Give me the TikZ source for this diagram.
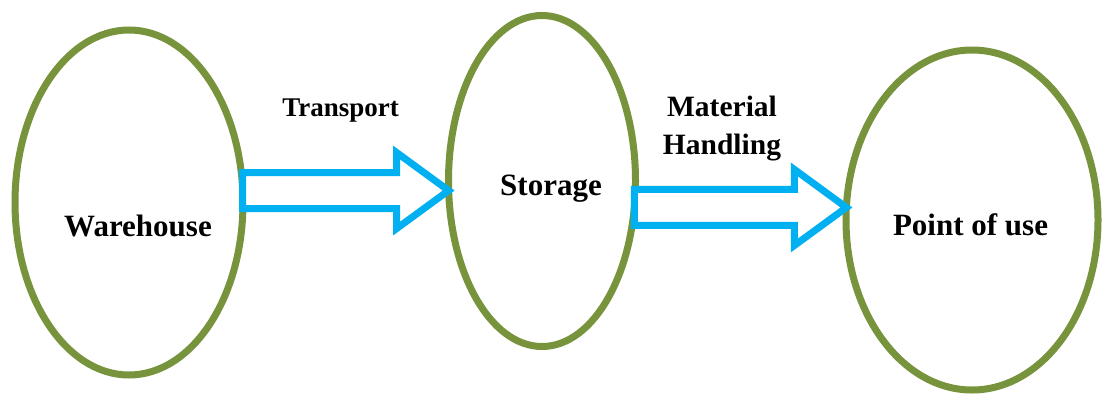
\documentclass[tikz,border=0pt]{standalone}
\usepackage{fontspec}
\setmainfont{Liberation Serif}
\usetikzlibrary{shapes,positioning,calc}

\definecolor{olivegreen}{HTML}{77933C}
\definecolor{pilblue}{HTML}{00B0F0}

\begin{document}
\begin{tikzpicture}[x=1pt, y=-1pt]

\tikzstyle{ring}=[ellipse, draw=olivegreen, line width=7pt, inner sep=0pt, outer sep=0pt]
\tikzstyle{tekst}=[font=\bfseries\fontsize{31}{36}\selectfont, anchor=base, inner sep=0pt]
\tikzstyle{pil}=[draw=pilblue, line width=7pt, fill=white,
  to path={let \p1=(\tikztostart), \p2=(\tikztotarget) in
    (\x1,\y1+18pt) -- (\x2-52pt,\y1+18pt) -- (\x2-52pt,\y1+38pt) -- (\x2,\y1)
    -- (\x2-52pt,\y1-38pt) -- (\x2-52pt,\y1-18pt) -- (\x1,\y1-18pt) -- cycle}]

\useasboundingbox (0,0) rectangle (1102,394);

\node[ring, minimum width=228pt, minimum height=345pt] (warehouse) at (129,202.5) {};
\node[ring, minimum width=187pt, minimum height=331pt] (storage) at (542,181) {};
\node[ring, minimum width=252pt, minimum height=340pt] (pointofuse) at (972,220) {};

\node[tekst] (lwarehouse) at (138,236) {Warehouse};
\node[tekst] (lstorage) at (551,195) {Storage};
\node[tekst] (lpointofuse) at (970.5,235) {Point of use};

\node[tekst, font=\bfseries\fontsize{27}{32}\selectfont] (ltransport) at (340.5,116) {Transport};
% base anchor sits on the last line
\node[tekst, font=\bfseries\fontsize{29.5}{38}\selectfont, align=center] (lhandling) at (722,154) {Material\\Handling};

\draw[pil] (warehouse.6.5) to (storage.185);
\draw[pil] (storage.-16.3) to (pointofuse.174.5);

\end{tikzpicture}
\end{document}
